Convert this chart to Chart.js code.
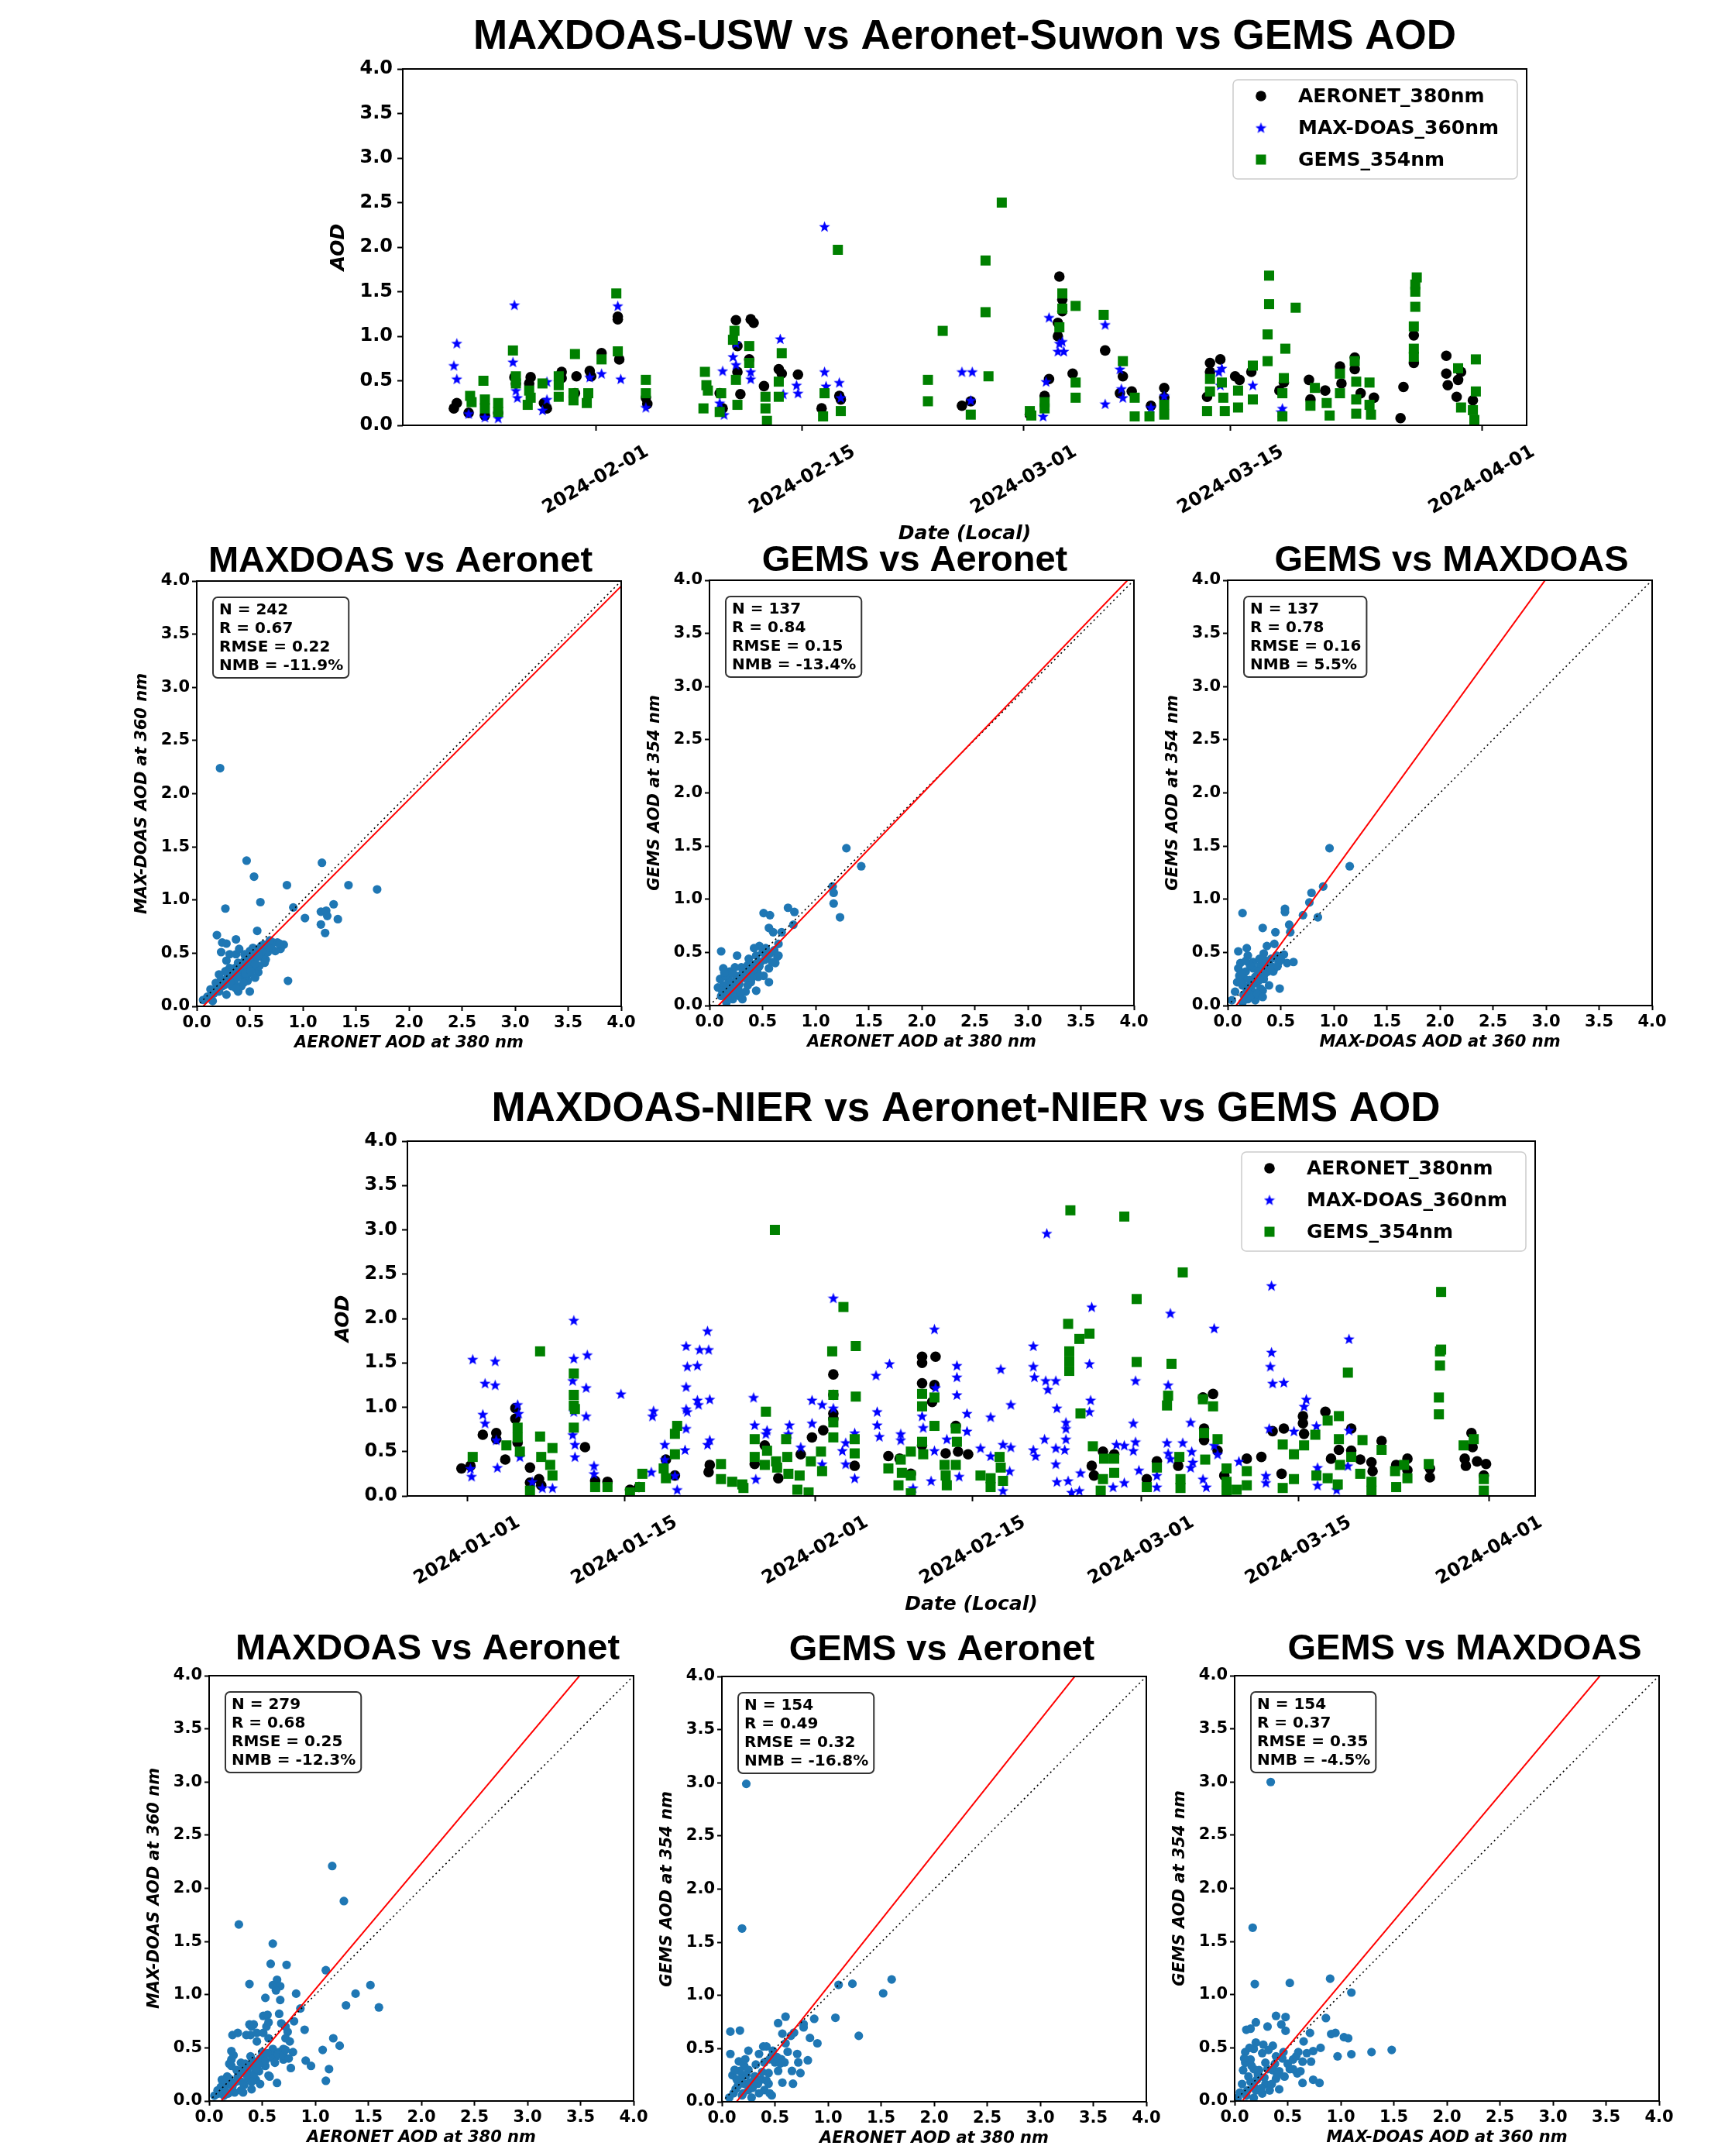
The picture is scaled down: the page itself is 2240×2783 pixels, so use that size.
<!DOCTYPE html>
<html>
<head>
<meta charset="utf-8">
<title>MAXDOAS / Aeronet / GEMS AOD</title>
<script src="https://cdn.jsdelivr.net/npm/chart.js@4.4.1/dist/chart.umd.min.js"></script>
<style>
  html, body { margin: 0; padding: 0; background: #fff; }
  #page { position: relative; width: 2240px; height: 2783px; overflow: hidden; background: #fff; }
  #page canvas { position: absolute; }
</style>
</head>
<body>
<div id="page"></div>
<script>
// Time axis: days counted from 2024-01-01 (local), so Feb 1 = 31, Mar 1 = 60, Apr 1 = 91
const uswDateTicks = [31, 45, 60, 74, 91];
const nierDateTicks = [0, 14, 31, 45, 60, 74, 91];
const uswDayRange = [17.94, 94.04];
const nierDayRange = [-5.31, 95.07];

// --- Suwon time series [day, AOD] ---
const uswAeronet = [[21.4,0.19],[21.6,0.25],[22.4,0.14],[23.5,0.11],[24.4,0.14],[25.5,0.54],[25.6,0.47],[26.6,0.54],[26.5,0.47],[27.5,0.25],[27.7,0.19],[28.7,0.60],[28.7,0.53],[29.7,0.55],[29.6,0.36],[30.6,0.61],[30.7,0.55],[31.4,0.81],[32.5,1.19],[32.5,1.22],[32.6,0.74],[34.4,0.31],[34.5,0.24],[39.4,0.36],[39.6,0.19],[40.5,1.18],[40.6,0.89],[40.6,0.60],[40.8,0.35],[41.5,1.19],[41.7,1.15],[41.4,0.74],[42.4,0.44],[43.4,0.63],[43.6,0.58],[44.7,0.57],[46.3,0.19],[47.5,0.33],[47.6,0.29],[55.8,0.22],[56.4,0.27],[60.4,0.12],[61.4,0.33],[61.7,0.52],[62.4,1.67],[62.6,1.41],[62.6,1.28],[62.3,1.15],[62.3,1.00],[63.3,0.58],[65.5,0.84],[66.7,0.55],[66.5,0.36],[67.3,0.38],[68.6,0.22],[69.5,0.42],[69.5,0.31],[72.6,0.70],[73.3,0.74],[72.6,0.60],[72.4,0.32],[74.3,0.55],[74.6,0.51],[75.4,0.60],[77.6,0.48],[77.3,0.39],[79.3,0.51],[79.4,0.29],[80.4,0.39],[81.4,0.66],[81.5,0.47],[82.4,0.76],[82.4,0.63],[82.8,0.36],[83.7,0.31],[85.5,0.08],[85.7,0.43],[86.4,1.01],[86.4,0.70],[88.6,0.78],[88.6,0.58],[88.7,0.45],[89.3,0.32],[89.6,0.60],[89.4,0.51],[90.4,0.28]];
const uswMaxdoas = [[21.6,0.92],[21.4,0.67],[21.6,0.52],[22.4,0.13],[23.5,0.09],[24.4,0.08],[25.5,1.35],[25.4,0.71],[25.6,0.39],[25.7,0.31],[27.4,0.17],[27.7,0.29],[27.7,0.49],[30.6,0.54],[31.4,0.58],[32.5,1.34],[32.7,0.52],[34.4,0.20],[39.6,0.61],[39.4,0.25],[39.7,0.12],[40.3,0.77],[40.5,0.68],[40.5,0.92],[41.5,0.60],[41.5,0.52],[43.5,0.97],[43.7,0.35],[44.6,0.45],[44.7,0.36],[46.5,2.23],[46.5,0.60],[46.6,0.44],[47.5,0.48],[47.6,0.31],[55.8,0.60],[56.5,0.60],[56.4,0.28],[61.3,0.10],[61.5,0.49],[61.7,1.21],[62.4,0.92],[62.3,0.83],[62.7,0.83],[62.6,0.94],[65.5,1.13],[65.5,0.24],[66.5,0.63],[66.6,0.41],[66.7,0.31],[68.6,0.20],[69.5,0.33],[73.2,0.60],[73.3,0.45],[73.4,0.64],[75.5,0.45],[77.4,0.15],[77.5,0.19]];
const uswGems = [[22.5,0.33],[22.6,0.26],[23.4,0.50],[23.5,0.29],[23.5,0.19],[24.4,0.25],[24.4,0.15],[25.4,0.84],[25.6,0.55],[25.6,0.47],[26.5,0.39],[26.4,0.23],[26.6,0.31],[27.4,0.47],[28.5,0.55],[28.5,0.45],[28.5,0.32],[29.6,0.80],[29.5,0.36],[29.5,0.28],[30.5,0.36],[30.4,0.25],[31.4,0.74],[32.4,1.48],[32.5,0.83],[34.4,0.51],[34.4,0.36],[38.4,0.60],[38.5,0.45],[38.6,0.39],[38.3,0.19],[39.4,0.15],[39.5,0.36],[40.4,1.06],[40.3,0.96],[40.5,0.51],[40.6,0.23],[41.4,0.89],[41.4,0.70],[42.5,0.32],[42.5,0.19],[42.6,0.05],[43.4,0.49],[43.4,0.32],[43.6,0.81],[46.5,0.36],[46.4,0.10],[47.6,0.16],[47.4,1.97],[53.5,0.51],[53.5,0.27],[54.5,1.06],[57.4,1.27],[57.4,1.85],[58.5,2.50],[57.6,0.55],[56.4,0.12],[60.4,0.16],[60.5,0.11],[61.4,0.26],[61.4,0.19],[62.6,1.48],[62.6,1.31],[62.4,1.10],[63.5,1.34],[63.5,0.48],[63.5,0.31],[65.4,1.24],[66.7,0.72],[67.5,0.31],[67.5,0.10],[68.5,0.10],[69.5,0.23],[69.5,0.12],[72.6,0.52],[72.6,0.38],[72.4,0.16],[73.4,0.48],[73.5,0.31],[73.6,0.16],[74.5,0.39],[74.5,0.20],[75.5,0.67],[75.5,0.29],[76.5,1.02],[76.6,1.36],[76.6,1.68],[76.5,0.72],[77.6,0.53],[77.5,0.36],[77.5,0.10],[77.7,0.86],[78.4,1.32],[79.4,0.22],[79.7,0.42],[80.5,0.25],[80.7,0.11],[81.4,0.58],[81.4,0.36],[82.4,0.72],[82.5,0.49],[82.5,0.29],[82.5,0.13],[83.4,0.48],[83.4,0.23],[83.5,0.12],[86.4,1.11],[86.4,0.86],[86.4,0.77],[86.5,1.33],[86.5,1.58],[86.6,1.66],[86.5,1.50],[89.4,0.64],[89.6,0.20],[90.6,0.74],[90.6,0.38],[90.4,0.17],[90.5,0.06]];

// --- NIER time series [day, AOD] ---
const nierAeronet = [[-0.5,0.31],[0.3,0.34],[1.4,0.69],[2.6,0.71],[2.6,0.64],[3.4,0.41],[4.3,0.99],[4.3,0.87],[4.5,0.60],[5.6,0.32],[5.6,0.15],[6.4,0.19],[6.6,0.12],[10.5,0.55],[11.4,0.17],[12.5,0.16],[14.5,0.07],[15.3,0.10],[17.7,0.41],[18.5,0.23],[21.6,0.35],[21.5,0.27],[25.6,0.36],[26.5,0.57],[27.7,0.20],[29.7,0.47],[30.7,0.66],[31.7,0.74],[32.6,1.37],[32.6,1.14],[32.6,0.93],[32.6,0.87],[34.5,0.34],[37.5,0.45],[38.5,0.42],[39.5,0.25],[40.5,1.57],[40.5,1.50],[40.5,1.27],[41.7,1.57],[41.6,1.25],[41.4,1.06],[40.5,0.57],[42.6,0.48],[43.5,0.79],[43.7,0.50],[44.6,0.47],[55.6,0.34],[56.6,0.50],[55.8,0.23],[57.6,0.47],[60.5,0.19],[61.4,0.39],[63.3,0.34],[65.5,1.11],[66.4,1.15],[65.6,0.76],[65.6,0.63],[66.8,0.51],[67.4,0.23],[69.4,0.42],[70.7,0.44],[71.7,0.73],[72.5,0.25],[72.7,0.76],[74.4,0.90],[74.4,0.82],[76.4,0.95],[74.5,0.70],[76.9,0.42],[77.6,0.52],[78.7,0.76],[78.7,0.51],[79.5,0.41],[80.5,0.38],[80.6,0.28],[81.4,0.62],[82.7,0.35],[83.7,0.42],[83.7,0.29],[85.7,0.21],[85.7,0.31],[89.4,0.71],[89.5,0.55],[88.8,0.42],[88.9,0.34],[89.9,0.39],[90.7,0.36],[90.5,0.23]];
const nierMaxdoas = [[0.5,1.54],[0.4,0.22],[0.3,0.31],[1.6,1.27],[1.4,0.92],[1.6,0.82],[2.5,1.52],[2.5,1.25],[2.6,0.63],[2.7,0.32],[4.5,1.03],[4.6,0.93],[4.7,0.44],[5.8,0.16],[6.7,0.09],[7.6,0.09],[9.5,1.98],[9.5,1.55],[9.4,1.30],[9.5,0.95],[9.4,0.69],[9.6,0.58],[9.6,0.44],[10.7,1.59],[10.6,1.22],[10.6,0.90],[11.3,0.34],[11.3,0.25],[13.7,1.15],[16.4,0.27],[16.6,0.96],[16.5,0.90],[17.6,0.58],[17.6,0.41],[18.5,0.23],[18.7,0.07],[19.5,1.69],[19.6,1.46],[19.5,1.23],[19.5,0.98],[19.6,0.95],[19.5,0.76],[19.4,0.52],[20.5,1.47],[20.7,1.65],[20.6,1.03],[20.5,1.08],[21.4,1.86],[21.5,1.65],[21.6,1.09],[21.4,0.58],[21.6,0.63],[25.5,1.11],[25.6,0.80],[26.7,0.74],[26.6,0.70],[25.7,0.19],[28.7,0.80],[28.6,0.70],[29.7,0.55],[30.7,1.08],[30.7,0.82],[31.6,1.03],[31.6,0.36],[32.6,2.23],[32.6,0.99],[33.7,0.60],[33.4,0.51],[33.7,0.36],[34.5,0.71],[34.5,0.20],[36.4,1.36],[36.5,0.95],[36.5,0.80],[36.7,0.67],[37.6,1.49],[38.6,0.70],[38.6,0.63],[39.7,0.09],[41.6,1.88],[41.7,1.22],[40.5,0.90],[40.6,0.77],[41.6,0.51],[41.3,0.17],[42.7,0.64],[43.6,1.47],[43.6,1.34],[43.6,1.14],[44.5,0.93],[44.5,0.73],[43.8,0.22],[46.6,0.89],[47.5,1.43],[48.4,1.03],[45.7,0.54],[46.6,0.45],[47.7,0.58],[48.4,0.55],[48.3,0.28],[47.7,0.06],[50.4,1.69],[50.4,1.46],[50.5,1.34],[51.5,1.30],[52.4,1.30],[51.7,1.20],[52.5,0.99],[50.4,0.52],[50.6,0.45],[51.4,0.64],[52.4,0.54],[52.4,0.36],[52.5,0.16],[53.3,0.83],[53.3,0.76],[53.3,0.64],[53.2,0.52],[53.5,0.17],[53.8,0.04],[54.5,0.06],[55.4,1.49],[55.6,2.13],[55.5,1.08],[55.4,0.95],[54.6,0.26],[57.8,0.58],[58.5,0.57],[59.3,0.82],[59.5,1.30],[59.5,0.61],[59.3,0.51],[59.8,0.29],[57.5,0.10],[58.5,0.15],[62.6,2.06],[62.4,1.25],[62.3,0.60],[62.4,0.48],[62.6,0.42],[61.4,0.23],[61.4,0.10],[63.7,0.60],[64.4,0.83],[64.5,0.50],[64.6,0.38],[64.4,0.32],[65.5,0.19],[65.8,0.10],[66.5,1.89],[66.5,0.57],[66.8,0.47],[68.7,0.39],[71.1,0.23],[71.1,0.15],[71.6,2.37],[71.6,1.62],[71.5,1.46],[71.7,1.27],[72.7,1.28],[71.4,0.76],[74.7,1.09],[74.5,1.01],[73.6,0.73],[75.6,0.79],[78.5,1.77],[78.5,0.74],[78.4,0.34],[75.7,0.32],[75.7,0.12],[77.4,0.07],[51.6,2.96]];
const nierGems = [[0.5,0.44],[3.5,0.57],[4.5,0.77],[4.5,0.66],[4.7,0.50],[5.6,0.06],[6.5,1.63],[6.5,0.67],[6.6,0.44],[7.4,0.35],[7.6,0.23],[7.6,0.54],[9.5,1.38],[9.5,1.14],[9.5,1.02],[9.6,0.98],[9.5,0.77],[11.4,0.10],[12.5,0.10],[14.5,0.04],[15.4,0.10],[15.6,0.25],[17.5,0.31],[17.7,0.20],[18.5,0.47],[18.5,0.70],[18.7,0.79],[22.6,0.36],[22.6,0.19],[23.6,0.16],[24.5,0.13],[24.6,0.09],[27.4,3.00],[26.6,0.95],[25.6,0.64],[25.6,0.44],[26.7,0.51],[26.5,0.35],[27.5,0.39],[27.6,0.32],[28.4,0.64],[28.5,0.44],[28.6,0.25],[29.4,0.07],[29.6,0.23],[30.4,0.04],[30.6,0.39],[31.5,0.50],[31.6,0.28],[32.5,1.63],[32.6,1.14],[32.6,0.83],[32.6,0.66],[33.5,2.13],[34.6,1.69],[34.6,1.12],[34.5,0.64],[34.5,0.48],[37.5,0.31],[38.6,0.41],[38.7,0.26],[38.4,0.12],[39.5,0.50],[39.5,0.23],[39.5,0.03],[40.5,1.15],[40.5,1.01],[40.5,0.61],[40.6,0.47],[41.6,1.11],[41.6,0.79],[42.5,0.35],[42.6,0.23],[42.7,0.12],[43.5,0.76],[43.6,0.61],[43.5,0.35],[53.7,3.22],[58.5,3.15],[63.7,2.52],[59.6,2.22],[53.5,1.94],[54.5,1.77],[55.4,1.83],[53.6,1.63],[53.6,1.52],[53.6,1.41],[59.6,1.51],[62.7,1.49],[62.4,1.13],[62.3,1.02],[65.5,1.09],[66.4,1.01],[54.6,0.93],[55.7,0.56],[56.7,0.42],[56.6,0.19],[56.4,0.06],[57.6,0.42],[57.6,0.26],[47.4,0.44],[47.5,0.32],[47.7,0.17],[45.7,0.23],[46.6,0.20],[46.6,0.10],[60.5,0.10],[61.4,0.32],[63.4,0.44],[63.5,0.19],[63.5,0.09],[65.6,0.71],[65.7,0.41],[66.8,0.64],[67.6,0.31],[67.6,0.16],[67.6,0.06],[68.5,0.07],[69.4,0.28],[69.4,0.12],[72.6,0.09],[72.6,0.58],[73.6,0.47],[73.6,0.19],[74.5,0.57],[75.5,0.69],[75.6,0.23],[76.6,0.85],[76.6,0.20],[77.6,0.90],[77.6,0.64],[77.7,0.35],[77.5,0.13],[78.4,1.39],[78.7,0.44],[79.5,0.25],[79.7,0.63],[80.5,0.16],[80.5,0.06],[81.4,0.52],[82.6,0.28],[82.7,0.10],[83.4,0.35],[83.7,0.20],[85.6,0.36],[86.5,0.92],[86.5,1.11],[86.6,1.47],[86.6,1.63],[86.7,1.65],[86.7,2.30],[88.7,0.57],[89.6,0.64],[90.5,0.19],[90.5,0.06]];

// --- collocated scatter pairs [x, y] ---
const uswMaxVsAero = [[0.22,2.24],[0.47,1.37],[0.54,1.22],[1.18,1.35],[0.85,1.14],[1.43,1.14],[1.70,1.10],[0.27,0.92],[0.60,0.98],[0.91,0.93],[1.02,0.83],[1.17,0.89],[1.22,0.90],[1.29,0.96],[1.23,0.85],[1.33,0.82],[1.17,0.77],[1.21,0.69],[0.86,0.24],[0.57,0.71],[0.19,0.67],[0.37,0.63],[0.24,0.60],[0.28,0.59],[0.23,0.51],[0.31,0.49],[0.37,0.49],[0.28,0.43],[0.50,0.14],[0.76,0.60],[0.82,0.58],[0.79,0.54],[0.74,0.52],[0.65,0.44],[0.64,0.52],[0.61,0.57],[0.58,0.54],[0.52,0.47],[0.49,0.40],[0.54,0.36],[0.58,0.32],[0.48,0.30],[0.42,0.33],[0.36,0.36],[0.39,0.41],[0.45,0.43],[0.33,0.27],[0.27,0.33],[0.21,0.30],[0.18,0.22],[0.13,0.16],[0.10,0.09],[0.15,0.05],[0.24,0.19],[0.28,0.11],[0.36,0.21],[0.42,0.19],[0.48,0.24],[0.55,0.27],[0.62,0.46],[0.67,0.51],[0.70,0.55],[0.50,0.52],[0.45,0.49],[0.40,0.54],[0.33,0.19],[0.21,0.14],[0.06,0.06],[0.31,0.36],[0.49,0.35],[0.59,0.38],[0.64,0.41],[0.54,0.44],[0.45,0.27],[0.39,0.14],[0.25,0.24],[0.44,0.38],[0.52,0.42],[0.56,0.49],[0.60,0.50],[0.47,0.46],[0.35,0.30],[0.30,0.25],[0.26,0.20],[0.20,0.17],[0.16,0.12],[0.12,0.08],[0.34,0.33],[0.41,0.29],[0.53,0.55],[0.66,0.58],[0.72,0.60],[0.78,0.59],[0.38,0.27],[0.43,0.35],[0.46,0.31],[0.51,0.33],[0.55,0.40],[0.57,0.46],[0.62,0.53],[0.68,0.56],[0.29,0.30],[0.23,0.25],[0.17,0.15],[0.32,0.22],[0.37,0.17],[0.44,0.22],[0.58,0.48],[0.63,0.58],[0.69,0.62]];
const uswGemsVsAero = [[1.29,1.48],[1.43,1.31],[1.16,1.12],[1.17,1.06],[1.17,0.96],[1.23,0.83],[0.74,0.92],[0.80,0.88],[0.51,0.87],[0.57,0.85],[0.56,0.73],[0.60,0.69],[0.79,0.76],[0.68,0.69],[0.65,0.58],[0.11,0.51],[0.26,0.47],[0.47,0.56],[0.42,0.54],[0.53,0.54],[0.65,0.47],[0.62,0.40],[0.56,0.35],[0.56,0.22],[0.51,0.28],[0.45,0.32],[0.44,0.14],[0.36,0.38],[0.31,0.30],[0.24,0.22],[0.19,0.32],[0.13,0.35],[0.10,0.25],[0.08,0.17],[0.14,0.13],[0.22,0.06],[0.28,0.09],[0.34,0.13],[0.39,0.22],[0.19,0.16],[0.25,0.28],[0.30,0.36],[0.37,0.44],[0.48,0.41],[0.41,0.33],[0.16,0.03],[0.11,0.09],[0.59,0.41],[0.64,0.46],[0.54,0.46],[0.13,0.19],[0.36,0.19],[0.27,0.16],[0.18,0.24],[0.22,0.30],[0.33,0.26],[0.28,0.20],[0.46,0.27],[0.50,0.50],[0.44,0.47],[0.39,0.30],[0.20,0.10],[0.15,0.28],[0.12,0.14],[0.24,0.36],[0.20,0.20],[0.23,0.14],[0.26,0.24],[0.29,0.12],[0.32,0.32],[0.35,0.27],[0.38,0.36],[0.43,0.39],[0.47,0.37],[0.52,0.43],[0.57,0.49],[0.61,0.52],[0.17,0.09],[0.14,0.31],[0.31,0.06],[0.40,0.26]];
const uswGemsVsMax = [[0.96,1.48],[1.15,1.31],[0.90,1.12],[0.79,1.06],[0.77,0.97],[0.71,0.85],[0.85,0.83],[0.54,0.91],[0.54,0.88],[0.58,0.76],[0.59,0.69],[0.45,0.69],[0.33,0.73],[0.14,0.87],[0.10,0.51],[0.18,0.54],[0.19,0.47],[0.37,0.56],[0.44,0.58],[0.53,0.48],[0.56,0.40],[0.62,0.41],[0.49,0.16],[0.34,0.49],[0.41,0.44],[0.48,0.41],[0.44,0.35],[0.38,0.32],[0.31,0.38],[0.24,0.35],[0.17,0.32],[0.11,0.28],[0.09,0.22],[0.14,0.19],[0.21,0.24],[0.28,0.28],[0.34,0.25],[0.39,0.19],[0.33,0.14],[0.24,0.13],[0.19,0.06],[0.14,0.03],[0.26,0.05],[0.07,0.13],[0.10,0.35],[0.12,0.40],[0.24,0.41],[0.46,0.47],[0.43,0.32],[0.36,0.35],[0.29,0.32],[0.16,0.25],[0.04,0.05],[0.20,0.18],[0.27,0.21],[0.31,0.16],[0.22,0.10],[0.13,0.30],[0.40,0.38],[0.30,0.44],[0.18,0.14],[0.23,0.20],[0.26,0.27],[0.30,0.24],[0.35,0.30],[0.38,0.40],[0.42,0.36],[0.47,0.37],[0.50,0.43],[0.15,0.10],[0.28,0.11],[0.33,0.08],[0.21,0.38],[0.12,0.22],[0.17,0.42],[0.36,0.42]];
const nierMaxVsAero = [[1.16,2.21],[1.27,1.88],[0.28,1.66],[0.60,1.48],[0.58,1.29],[0.73,1.28],[1.10,1.23],[0.38,1.10],[0.60,1.09],[0.64,1.14],[0.67,1.08],[0.63,1.04],[1.52,1.09],[1.38,1.01],[0.82,1.01],[0.53,0.97],[0.67,0.95],[1.29,0.90],[1.60,0.88],[0.86,0.87],[0.66,0.82],[0.51,0.80],[0.55,0.81],[0.80,0.75],[0.38,0.72],[0.42,0.72],[0.22,0.62],[0.27,0.64],[1.17,0.59],[1.23,0.52],[1.07,0.48],[0.91,0.38],[0.96,0.33],[1.13,0.30],[1.10,0.19],[0.64,0.17],[0.77,0.31],[0.90,0.67],[0.76,0.56],[0.79,0.46],[0.70,0.39],[0.39,0.62],[0.45,0.56],[0.56,0.59],[0.60,0.49],[0.50,0.46],[0.39,0.42],[0.30,0.36],[0.21,0.47],[0.21,0.39],[0.21,0.33],[0.17,0.23],[0.13,0.16],[0.08,0.10],[0.05,0.05],[0.27,0.23],[0.36,0.29],[0.45,0.33],[0.56,0.24],[0.51,0.38],[0.63,0.42],[0.70,0.49],[0.44,0.20],[0.33,0.15],[0.24,0.08],[0.14,0.05],[0.30,0.10],[0.40,0.11],[0.17,0.16],[0.11,0.13],[0.57,0.23],[0.37,0.21],[0.51,0.64],[0.74,0.65],[0.54,0.70],[0.72,0.59],[0.48,0.40],[0.58,0.44],[0.66,0.46],[0.34,0.35],[0.26,0.29],[0.19,0.21],[0.47,0.28],[0.53,0.33],[0.42,0.25],[0.31,0.18],[0.15,0.10],[0.18,0.07],[0.22,0.14],[0.25,0.18],[0.28,0.26],[0.32,0.31],[0.35,0.25],[0.38,0.33],[0.41,0.38],[0.44,0.30],[0.47,0.35],[0.50,0.41],[0.53,0.38],[0.55,0.45],[0.60,0.40],[0.62,0.36],[0.65,0.44],[0.70,0.43],[0.72,0.48],[0.75,0.40],[0.68,0.73],[0.72,0.70],[0.56,0.74],[0.45,0.64],[0.40,0.70],[0.35,0.62],[0.19,0.35],[0.23,0.43],[0.12,0.20],[0.09,0.07],[0.32,0.08],[0.40,0.18],[0.48,0.16]];
const nierGemsVsAero = [[0.23,2.99],[0.19,1.63],[1.60,1.15],[1.10,1.10],[1.23,1.11],[1.52,1.02],[1.07,0.79],[1.29,0.62],[0.60,0.80],[0.87,0.78],[0.77,0.73],[0.77,0.70],[0.53,0.74],[0.08,0.66],[0.17,0.67],[0.68,0.65],[0.57,0.64],[0.83,0.60],[0.90,0.55],[0.39,0.52],[0.42,0.52],[0.25,0.48],[0.08,0.45],[0.35,0.45],[0.71,0.45],[0.72,0.37],[0.81,0.39],[0.74,0.27],[0.66,0.29],[0.53,0.29],[0.57,0.18],[0.67,0.17],[0.47,0.06],[0.16,0.38],[0.21,0.34],[0.10,0.25],[0.14,0.21],[0.07,0.04],[0.25,0.30],[0.31,0.24],[0.37,0.21],[0.44,0.27],[0.50,0.37],[0.56,0.40],[0.62,0.47],[0.59,0.37],[0.47,0.43],[0.40,0.37],[0.34,0.17],[0.25,0.11],[0.19,0.06],[0.28,0.04],[0.40,0.11],[0.13,0.12],[0.21,0.17],[0.11,0.08],[0.17,0.29],[0.44,0.17],[0.15,0.15],[0.18,0.22],[0.20,0.08],[0.23,0.25],[0.26,0.18],[0.29,0.13],[0.32,0.35],[0.35,0.08],[0.38,0.28],[0.42,0.20],[0.45,0.40],[0.48,0.48],[0.52,0.42],[0.55,0.36],[0.60,0.55],[0.65,0.62],[0.12,0.30],[0.22,0.40],[0.30,0.20],[0.45,0.08]];
const nierGemsVsMax = [[0.34,3.00],[0.17,1.63],[0.19,1.10],[0.52,1.11],[0.90,1.15],[1.10,1.02],[0.39,0.80],[0.48,0.79],[0.86,0.78],[0.44,0.72],[0.20,0.74],[0.31,0.70],[0.11,0.67],[0.15,0.68],[0.48,0.66],[0.71,0.64],[0.95,0.64],[0.91,0.63],[1.03,0.60],[1.07,0.59],[0.65,0.56],[0.27,0.53],[0.36,0.52],[0.18,0.49],[0.10,0.46],[0.81,0.50],[0.74,0.47],[1.29,0.46],[1.48,0.48],[1.10,0.44],[0.97,0.42],[0.60,0.46],[0.55,0.39],[0.46,0.46],[0.39,0.42],[0.64,0.37],[0.72,0.37],[0.52,0.30],[0.59,0.26],[0.47,0.23],[0.74,0.20],[0.80,0.17],[0.64,0.17],[0.42,0.11],[0.29,0.16],[0.10,0.36],[0.16,0.33],[0.23,0.29],[0.29,0.36],[0.36,0.29],[0.13,0.23],[0.07,0.16],[0.05,0.08],[0.11,0.05],[0.20,0.10],[0.26,0.07],[0.33,0.10],[0.39,0.21],[0.21,0.20],[0.15,0.39],[0.08,0.29],[0.03,0.03],[0.18,0.03],[0.12,0.10],[0.15,0.18],[0.18,0.14],[0.22,0.25],[0.25,0.12],[0.28,0.22],[0.31,0.30],[0.35,0.16],[0.38,0.35],[0.42,0.28],[0.45,0.40],[0.50,0.35],[0.55,0.30],[0.58,0.42],[0.62,0.28],[0.68,0.45],[0.09,0.40],[0.14,0.50],[0.20,0.55],[0.26,0.45],[0.32,0.48],[0.40,0.25],[0.18,0.30]];

// statistics boxes and fitted lines [slope, intercept]
const uswStatsMaxAero = ["N = 242", "R = 0.67", "RMSE = 0.22", "NMB = -11.9%"];
const uswStatsGemsAero = ["N = 137", "R = 0.84", "RMSE = 0.15", "NMB = -13.4%"];
const uswStatsGemsMax = ["N = 137", "R = 0.78", "RMSE = 0.16", "NMB = 5.5%"];
const nierStatsMaxAero = ["N = 279", "R = 0.68", "RMSE = 0.25", "NMB = -12.3%"];
const nierStatsGemsAero = ["N = 154", "R = 0.49", "RMSE = 0.32", "NMB = -16.8%"];
const nierStatsGemsMax = ["N = 154", "R = 0.37", "RMSE = 0.35", "NMB = -4.5%"];
const uswFits = [[1.003, -0.06], [1.037, -0.086], [1.374, -0.11]];
const nierFits = [[1.184, -0.134], [1.255, -0.173], [1.186, -0.085]];

const AOD_MAX = 4.0;

Chart.defaults.font.family = '"DejaVu Sans", sans-serif';
Chart.defaults.font.weight = 'bold';
Chart.defaults.color = '#000';
Chart.defaults.animation = false;

const DAY0 = Date.UTC(2024, 0, 1);
function dayLabel(d) {
  return new Date(DAY0 + d * 86400000).toISOString().slice(0, 10);
}
function pts(pairs) {
  return pairs.map(p => ({x: p[0], y: p[1]}));
}

function starImage(size, color) {
  const c = document.createElement('canvas');
  c.width = c.height = size;
  const g = c.getContext('2d');
  const R = size / 2, r = R * 0.42;
  g.beginPath();
  for (let i = 0; i < 10; i++) {
    const rad = i % 2 ? r : R;
    const a = -Math.PI / 2 + i * Math.PI / 5;
    g.lineTo(R + rad * Math.cos(a), R + 0.6 + rad * Math.sin(a));
  }
  g.closePath();
  g.fillStyle = color;
  g.fill();
  return c;
}
const blueStar = starImage(15, '#0000ff');

const tsMarkers = [
  {label: 'AERONET_380nm', pointStyle: 'circle', radius: 6.8, color: '#000000'},
  {label: 'MAX-DOAS_360nm', pointStyle: blueStar, radius: 7.5, color: '#0000ff'},
  {label: 'GEMS_354nm', pointStyle: 'rect', radius: 9.2, color: '#008000'}
];

function placeCanvas(plot, pad) {
  const [L, T, R, B] = plot;
  const cv = document.createElement('canvas');
  cv.width = R - L + pad.l + pad.r;
  cv.height = B - T + pad.t + pad.b;
  cv.style.left = (L - pad.l) + 'px';
  cv.style.top = (T - pad.t) + 'px';
  document.getElementById('page').appendChild(cv);
  return cv;
}

function box(ctx, x, y, w, h, r) {
  ctx.beginPath();
  if (ctx.roundRect) ctx.roundRect(x, y, w, h, r); else ctx.rect(x, y, w, h);
}

// frame, titles, rotated date labels, legend and stats box
function decor(cfg) {
  return {
    id: 'decor',
    afterDatasetsDraw(chart) {
      const {ctx, chartArea: a} = chart;
      ctx.save();
      ctx.lineWidth = 2;
      ctx.strokeStyle = '#000';
      ctx.strokeRect(a.left, a.top, a.right - a.left, a.bottom - a.top);
      ctx.restore();
    },
    afterDraw(chart) {
      const {ctx, chartArea: a} = chart;
      ctx.save();
      ctx.fillStyle = '#000';
      ctx.font = 'bold ' + cfg.titleSize + 'px "Liberation Sans", Arial, sans-serif';
      ctx.textAlign = 'center';
      ctx.textBaseline = 'alphabetic';
      ctx.fillText(cfg.title, (a.left + a.right) / 2 + cfg.titleDx, a.top - cfg.titleGap);

      if (cfg.dateLabels) {
        const xs = chart.scales.x;
        const ang = 30 * Math.PI / 180;
        ctx.font = 'bold 24px "DejaVu Sans"';
        ctx.textBaseline = 'middle';
        xs.ticks.forEach(t => {
          const w = ctx.measureText(t.label).width;
          const halfH = w / 2 * Math.sin(ang) + 12 * Math.cos(ang);
          ctx.save();
          ctx.translate(xs.getPixelForValue(t.value), a.bottom + 22 + halfH);
          ctx.rotate(-ang);
          ctx.fillText(t.label, 0, 0);
          ctx.restore();
        });
      }

      if (cfg.legend) {
        const w = 367, h = 128, x = a.right - 12 - w, y = a.top + 14;
        box(ctx, x, y, w, h, 6);
        ctx.fillStyle = 'rgba(255,255,255,0.8)';
        ctx.fill();
        ctx.strokeStyle = '#cccccc';
        ctx.lineWidth = 1.5;
        ctx.stroke();
        ctx.font = 'bold 25px "DejaVu Sans"';
        ctx.textAlign = 'left';
        ctx.textBaseline = 'middle';
        cfg.legend.forEach((m, i) => {
          const my = y + 21 + i * 41;
          ctx.fillStyle = m.color;
          Chart.helpers.drawPoint(ctx, {pointStyle: m.pointStyle, radius: m.radius, rotation: 0, borderWidth: 0}, x + 36, my);
          ctx.fillStyle = '#000';
          ctx.fillText(m.label, x + 84, my + 1);
        });
      }

      if (cfg.stats) {
        ctx.font = 'bold 20px "DejaVu Sans"';
        const w = Math.max(...cfg.stats.map(s => ctx.measureText(s).width)) + 15;
        const h = cfg.stats.length * 24 + 8;
        const x = a.left + 21, y = a.top + 21;
        box(ctx, x, y, w, h, 6);
        ctx.fillStyle = '#fff';
        ctx.fill();
        ctx.strokeStyle = '#333';
        ctx.lineWidth = 2;
        ctx.stroke();
        ctx.fillStyle = '#000';
        ctx.textAlign = 'left';
        ctx.textBaseline = 'middle';
        cfg.stats.forEach((s, i) => ctx.fillText(s, x + 8, y + 17 + i * 24));
      }
      ctx.restore();
    }
  };
}

function axis(o) {
  const horiz = o.pos === 'x';
  const title = {
    display: true, text: o.title, color: '#000',
    font: {size: o.titleSize, weight: 'bold', style: 'italic', lineHeight: 1},
    padding: horiz ? {top: 0, bottom: o.size - o.titleOff - o.titleSize / 2}
                   : {top: o.size - o.titleOff - o.titleSize / 2, bottom: 0}
  };
  return {
    type: 'linear', min: o.min, max: o.max,
    afterFit: s => { if (horiz) s.height = o.size; else s.width = o.size; },
    afterBuildTicks: o.tickValues ? (s => { s.ticks = o.tickValues.map(v => ({value: v})); }) : undefined,
    grid: {drawOnChartArea: false, drawTicks: true, tickLength: o.tickLen, tickWidth: 2, tickColor: '#000'},
    border: {display: false},
    ticks: {
      display: o.showLabels !== false, autoSkip: false, maxRotation: 0, stepSize: 0.5,
      padding: o.labelPad, color: '#000',
      font: {size: o.tickSize, weight: 'bold'},
      callback: o.format
    },
    title: title
  };
}

function timeSeries(cfg) {
  const pad = {l: 150, t: 90, r: 30, b: 200};
  const cv = placeCanvas(cfg.plot, pad);
  const sets = [cfg.aeronet, cfg.maxdoas, cfg.gems];
  new Chart(cv, {
    type: 'scatter',
    data: {
      datasets: tsMarkers.map((m, i) => ({
        label: m.label,
        data: pts(sets[i]),
        pointStyle: m.pointStyle,
        pointRadius: m.radius,
        pointHoverRadius: m.radius,
        backgroundColor: m.color,
        borderWidth: 0,
        order: 3 - i,
        clip: 0
      }))
    },
    options: {
      responsive: false,
      devicePixelRatio: 1,
      layout: {padding: {left: 0, top: pad.t, right: pad.r, bottom: 0}},
      plugins: {legend: {display: false}, tooltip: {enabled: false}},
      scales: {
        x: axis({pos: 'x', min: cfg.range[0], max: cfg.range[1], size: pad.b, tickValues: cfg.ticks,
                 showLabels: false, tickLen: 7, labelPad: 4, tickSize: 24, format: v => dayLabel(v),
                 title: 'Date (Local)', titleSize: 25, titleOff: 140}),
        y: axis({pos: 'y', min: 0, max: AOD_MAX, size: pad.l, tickLen: 7, labelPad: 6, tickSize: 24,
                 format: v => v.toFixed(1), title: 'AOD', titleSize: 25, titleOff: 83})
      }
    },
    plugins: [decor({title: cfg.title, titleSize: 53, titleGap: 26, titleDx: cfg.titleDx,
                     dateLabels: true, legend: tsMarkers})]
  });
}

function scatterPanel(cfg) {
  const pad = {l: 100, t: 75, r: 30, b: 75};
  const cv = placeCanvas(cfg.plot, pad);
  const ends = [0, AOD_MAX];
  new Chart(cv, {
    type: 'scatter',
    data: {
      datasets: [
        {data: pts(cfg.pairs), pointStyle: 'circle', pointRadius: 5.6, pointHoverRadius: 5.6,
         backgroundColor: '#1f77b4', borderWidth: 0, order: 3, clip: 0},
        {type: 'line', data: ends.map(x => ({x: x, y: x})), borderColor: '#000', borderWidth: 1.6,
         borderDash: [2, 4], pointRadius: 0, order: 2, clip: 0},
        {type: 'line', data: ends.map(x => ({x: x, y: cfg.fit[0] * x + cfg.fit[1]})), borderColor: '#ff0000',
         borderWidth: 2, pointRadius: 0, order: 1, clip: 0}
      ]
    },
    options: {
      responsive: false,
      devicePixelRatio: 1,
      layout: {padding: {left: 0, top: pad.t, right: pad.r, bottom: 0}},
      plugins: {legend: {display: false}, tooltip: {enabled: false}},
      scales: {
        x: axis({pos: 'x', min: 0, max: AOD_MAX, size: pad.b, tickLen: 6, labelPad: 3, tickSize: 21,
                 format: v => v.toFixed(1), title: cfg.xTitle, titleSize: 21, titleOff: 48}),
        y: axis({pos: 'y', min: 0, max: AOD_MAX, size: pad.l, tickLen: 6, labelPad: 3, tickSize: 21,
                 format: v => v.toFixed(1), title: cfg.yTitle, titleSize: 21, titleOff: 70})
      }
    },
    plugins: [decor({title: cfg.title, titleSize: 47, titleGap: cfg.titleGap, titleDx: cfg.titleDx,
                     stats: cfg.stats})]
  });
}

timeSeries({plot: [520, 89, 1971, 549], range: uswDayRange, ticks: uswDateTicks, titleDx: 0,
            title: 'MAXDOAS-USW vs Aeronet-Suwon vs GEMS AOD',
            aeronet: uswAeronet, maxdoas: uswMaxdoas, gems: uswGems});
timeSeries({plot: [526, 1473, 1982, 1931], range: nierDayRange, ticks: nierDateTicks, titleDx: -7,
            title: 'MAXDOAS-NIER vs Aeronet-NIER vs GEMS AOD',
            aeronet: nierAeronet, maxdoas: nierMaxdoas, gems: nierGems});

const xAero = 'AERONET AOD at 380 nm', xMax = 'MAX-DOAS AOD at 360 nm';
const yMax = 'MAX-DOAS AOD at 360 nm', yGems = 'GEMS AOD at 354 nm';
scatterPanel({plot: [254, 750, 802, 1299], title: 'MAXDOAS vs Aeronet', titleDx: -11, titleGap: 12,
              pairs: uswMaxVsAero, fit: uswFits[0], stats: uswStatsMaxAero, xTitle: xAero, yTitle: yMax});
scatterPanel({plot: [916, 749, 1464, 1298], title: 'GEMS vs Aeronet', titleDx: -9, titleGap: 12,
              pairs: uswGemsVsAero, fit: uswFits[1], stats: uswStatsGemsAero, xTitle: xAero, yTitle: yGems});
scatterPanel({plot: [1585, 749, 2133, 1298], title: 'GEMS vs MAXDOAS', titleDx: 15, titleGap: 12,
              pairs: uswGemsVsMax, fit: uswFits[2], stats: uswStatsGemsMax, xTitle: xMax, yTitle: yGems});
scatterPanel({plot: [270, 2163, 818, 2712], title: 'MAXDOAS vs Aeronet', titleDx: 8, titleGap: 21,
              pairs: nierMaxVsAero, fit: nierFits[0], stats: nierStatsMaxAero, xTitle: xAero, yTitle: yMax});
scatterPanel({plot: [932, 2164, 1480, 2713], title: 'GEMS vs Aeronet', titleDx: 10, titleGap: 21,
              pairs: nierGemsVsAero, fit: nierFits[1], stats: nierStatsGemsAero, xTitle: xAero, yTitle: yGems});
scatterPanel({plot: [1594, 2163, 2142, 2712], title: 'GEMS vs MAXDOAS', titleDx: 23, titleGap: 21,
              pairs: nierGemsVsMax, fit: nierFits[2], stats: nierStatsGemsMax, xTitle: xMax, yTitle: yGems});
</script>
</body>
</html>
